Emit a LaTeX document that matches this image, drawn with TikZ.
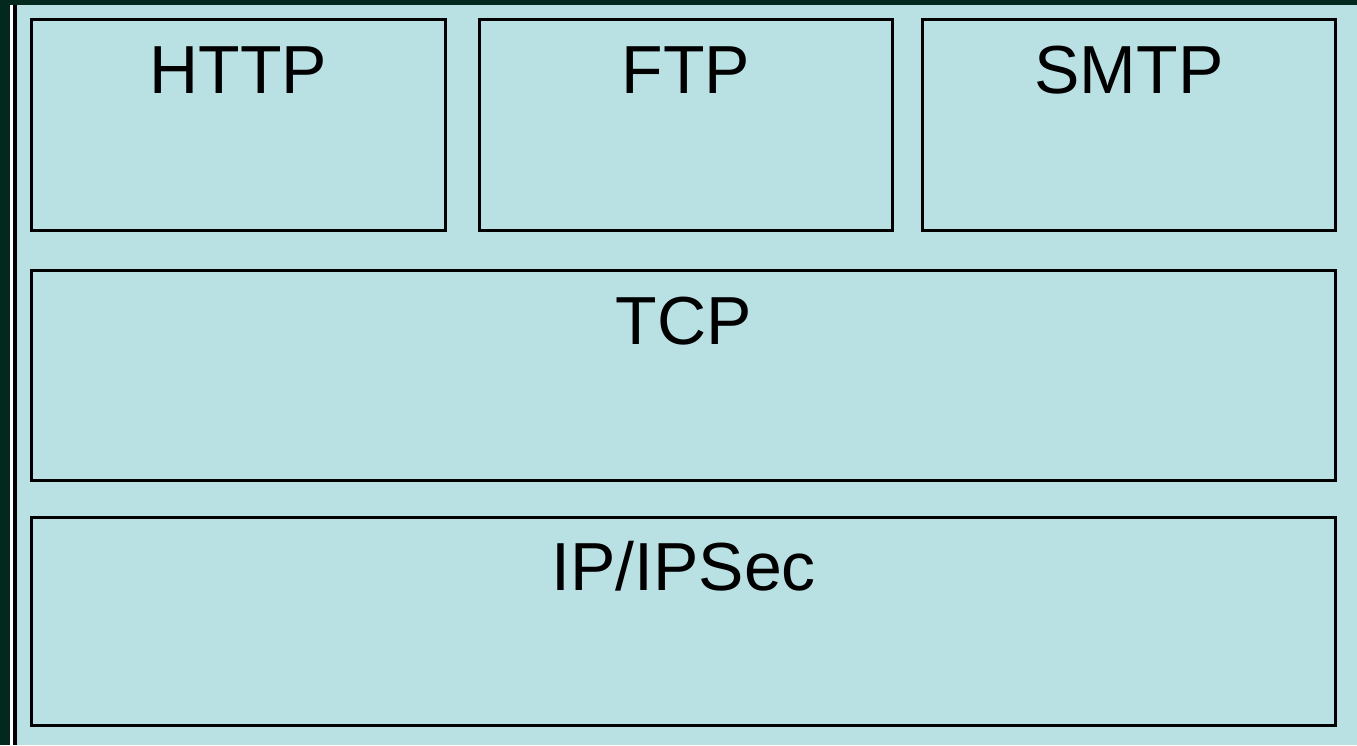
\documentclass[tikz,border=0pt]{standalone}
\usepackage{fontspec}
\setmainfont{Liberation Sans}
\definecolor{panel}{HTML}{B9E0E3}
\definecolor{frame}{HTML}{03291F}
\tikzset{
  layer/.style={draw=black, line width=3pt, fill=none, inner sep=0pt},
  lbl/.style={anchor=base, inner sep=0pt, font=\fontsize{68}{68}\selectfont, text=black}
}
\begin{document}
\begin{tikzpicture}[x=1pt, y=-1pt]
  % page background and outer frame
  \useasboundingbox (0,0) rectangle (1357,745);
  \fill[panel] (0,0) rectangle (1357,745);
  \fill[frame] (0,0) rectangle (1357,5);
  \fill[frame] (0,0) rectangle (10,745);
  \fill[white] (10,5) rectangle (13,745);
  \fill[black] (13,5) rectangle (17,745);

  % application layer
  \draw[layer] (31.5,19.5) rectangle (445.5,230.5);
  \node[layer, draw=none, minimum width=414pt, minimum height=211pt] (http) at (238.5,125) {};
  \draw[layer] (479.5,19.5) rectangle (892,230.5);
  \node[layer, draw=none, minimum width=412pt, minimum height=211pt] (ftp) at (685.75,125) {};
  \draw[layer] (922.5,19.5) rectangle (1335.5,230.5);
  \node[layer, draw=none, minimum width=413pt, minimum height=211pt] (smtp) at (1129,125) {};

  % transport and network layers
  \draw[layer] (31.5,270.5) rectangle (1335.5,480.5);
  \node[layer, draw=none, minimum width=1304pt, minimum height=210pt] (tcp) at (683.5,375.5) {};
  \draw[layer] (31.5,517) rectangle (1335.5,725.5);
  \node[layer, draw=none, minimum width=1304pt, minimum height=208.5pt] (ip) at (683.5,621.25) {};

  % labels
  \node[lbl] at ([yshift=-75pt]http.north) {HTTP};
  \node[lbl] at ([yshift=-75pt]ftp.north) {FTP};
  \node[lbl] at ([yshift=-75pt]smtp.north) {SMTP};
  \node[lbl] at ([yshift=-75pt]tcp.north) {TCP};
  \node[lbl] at ([yshift=-75pt]ip.north) {IP/IPSec};
\end{tikzpicture}
\end{document}
